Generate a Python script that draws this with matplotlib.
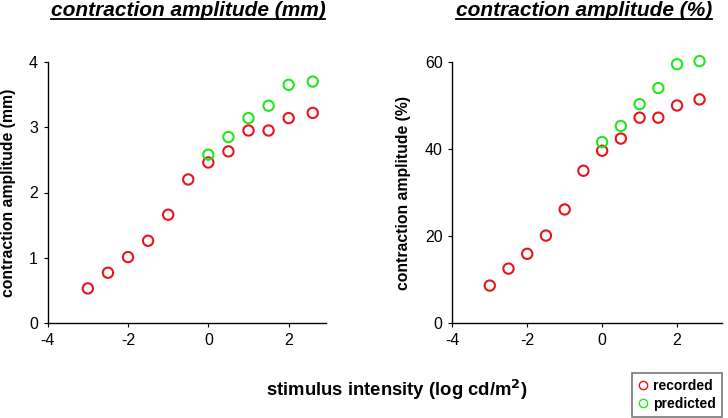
import matplotlib
matplotlib.use("Agg")
import matplotlib.pyplot as plt
from matplotlib.lines import Line2D

plt.rcParams['font.family'] = ['Liberation Sans', 'DejaVu Sans']
plt.rcParams['axes.unicode_minus'] = False

# stimulus intensities (log cd/m2)
intensity = [-3, -2.5, -2, -1.5, -1, -0.5, 0, 0.5, 1, 1.5, 2, 2.6]
intensity_pred = [0, 0.5, 1, 1.5, 2, 2.6]

# contraction amplitude in mm
mm_recorded = [0.53, 0.77, 1.01, 1.26, 1.66, 2.20, 2.46, 2.63, 2.95, 2.95, 3.14, 3.22]
mm_predicted = [2.58, 2.85, 3.14, 3.33, 3.65, 3.70]

# contraction amplitude in percent
pct_recorded = [8.6, 12.5, 15.9, 20.1, 26.1, 35.0, 39.6, 42.4, 47.2, 47.2, 50.0, 51.4]
pct_predicted = [41.6, 45.3, 50.3, 54.0, 59.5, 60.2]

titles = ['contraction amplitude (mm)', 'contraction amplitude (%)']
ylabels = ['contraction amplitude (mm)', 'contraction amplitude (%)']

red = '#e8141e'
green = '#22e61e'

fig = plt.figure(figsize=(7.28, 4.18), dpi=100)
W, H = 728.0, 418.0


def make_axes(x0, x1, xmax):
    ax = fig.add_axes([x0 / W, 1 - 323 / H, (x1 - x0) / W, 261 / H])
    ax.set_xlim(-4, xmax)
    ax.set_xticks([-4, -2, 0, 2])
    ax.spines['top'].set_visible(False)
    ax.spines['right'].set_visible(False)
    for s in ['left', 'bottom']:
        ax.spines[s].set_linewidth(1.0)
    ax.tick_params(direction='out', length=3, labelsize=11.5, pad=4)
    return ax


def plot_pair(ax, rec, pred):
    ax.scatter(intensity, rec, s=55, facecolors='none', edgecolors=red,
               linewidths=1.5, clip_on=False)
    ax.scatter(intensity_pred, pred, s=55, facecolors='none', edgecolors=green,
               linewidths=1.5, clip_on=False)


ax1 = make_axes(47.7, 326, 2.93)
plot_pair(ax1, mm_recorded, mm_predicted)
ax1.set_ylim(0, 4)
ax1.set_yticks([0, 1, 2, 3, 4])
ax1.set_ylabel(ylabels[0], fontsize=11.3, fontweight='bold')
ax1.yaxis.set_label_coords(-0.115, 0.5)

ax2 = make_axes(452.3, 722, 3.2)
plot_pair(ax2, pct_recorded, pct_predicted)
ax2.set_ylim(0, 60)
ax2.set_yticks([0, 20, 40, 60])
ax2.set_ylabel(ylabels[1], fontsize=11.3, fontweight='bold')
ax2.yaxis.set_label_coords(-0.153, 0.5)

# titles, bold italic and underlined
fig.canvas.draw()
renderer = fig.canvas.get_renderer()
for xc, txt in zip([188, 584], titles):
    t = fig.text(xc / W, 1 - 15.5 / H, txt, ha='center', va='baseline',
                 fontsize=15, fontweight='bold', fontstyle='italic')
    bb = t.get_window_extent(renderer=renderer).transformed(fig.transFigure.inverted())
    yl = 1 - 18.5 / H
    fig.add_artist(Line2D([bb.x0, bb.x1], [yl, yl], transform=fig.transFigure,
                          color='black', lw=1.3))

fig.text(397 / W, 1 - 390 / H, 'stimulus intensity (log cd/m$^{\\mathbf{2}}$)',
         ha='center', va='center', fontsize=13.3, fontweight='bold')

handles = [Line2D([], [], ls='none', marker='o', markersize=6, mfc='none', mec=red, mew=1),
           Line2D([], [], ls='none', marker='o', markersize=6, mfc='none', mec=green, mew=1)]
leg = fig.legend(handles, ['recorded', 'predicted'], loc='lower right',
                 bbox_to_anchor=(722 / W, 1 - 417 / H), frameon=True, fancybox=False,
                 handlelength=0.7, handletextpad=0.35, borderpad=0.45, labelspacing=0.25,
                 borderaxespad=0, prop={'size': 10, 'weight': 'bold'})
leg.get_frame().set_edgecolor('#555555')
leg.get_frame().set_linewidth(1.2)

fig.savefig('out.png', dpi=100)
